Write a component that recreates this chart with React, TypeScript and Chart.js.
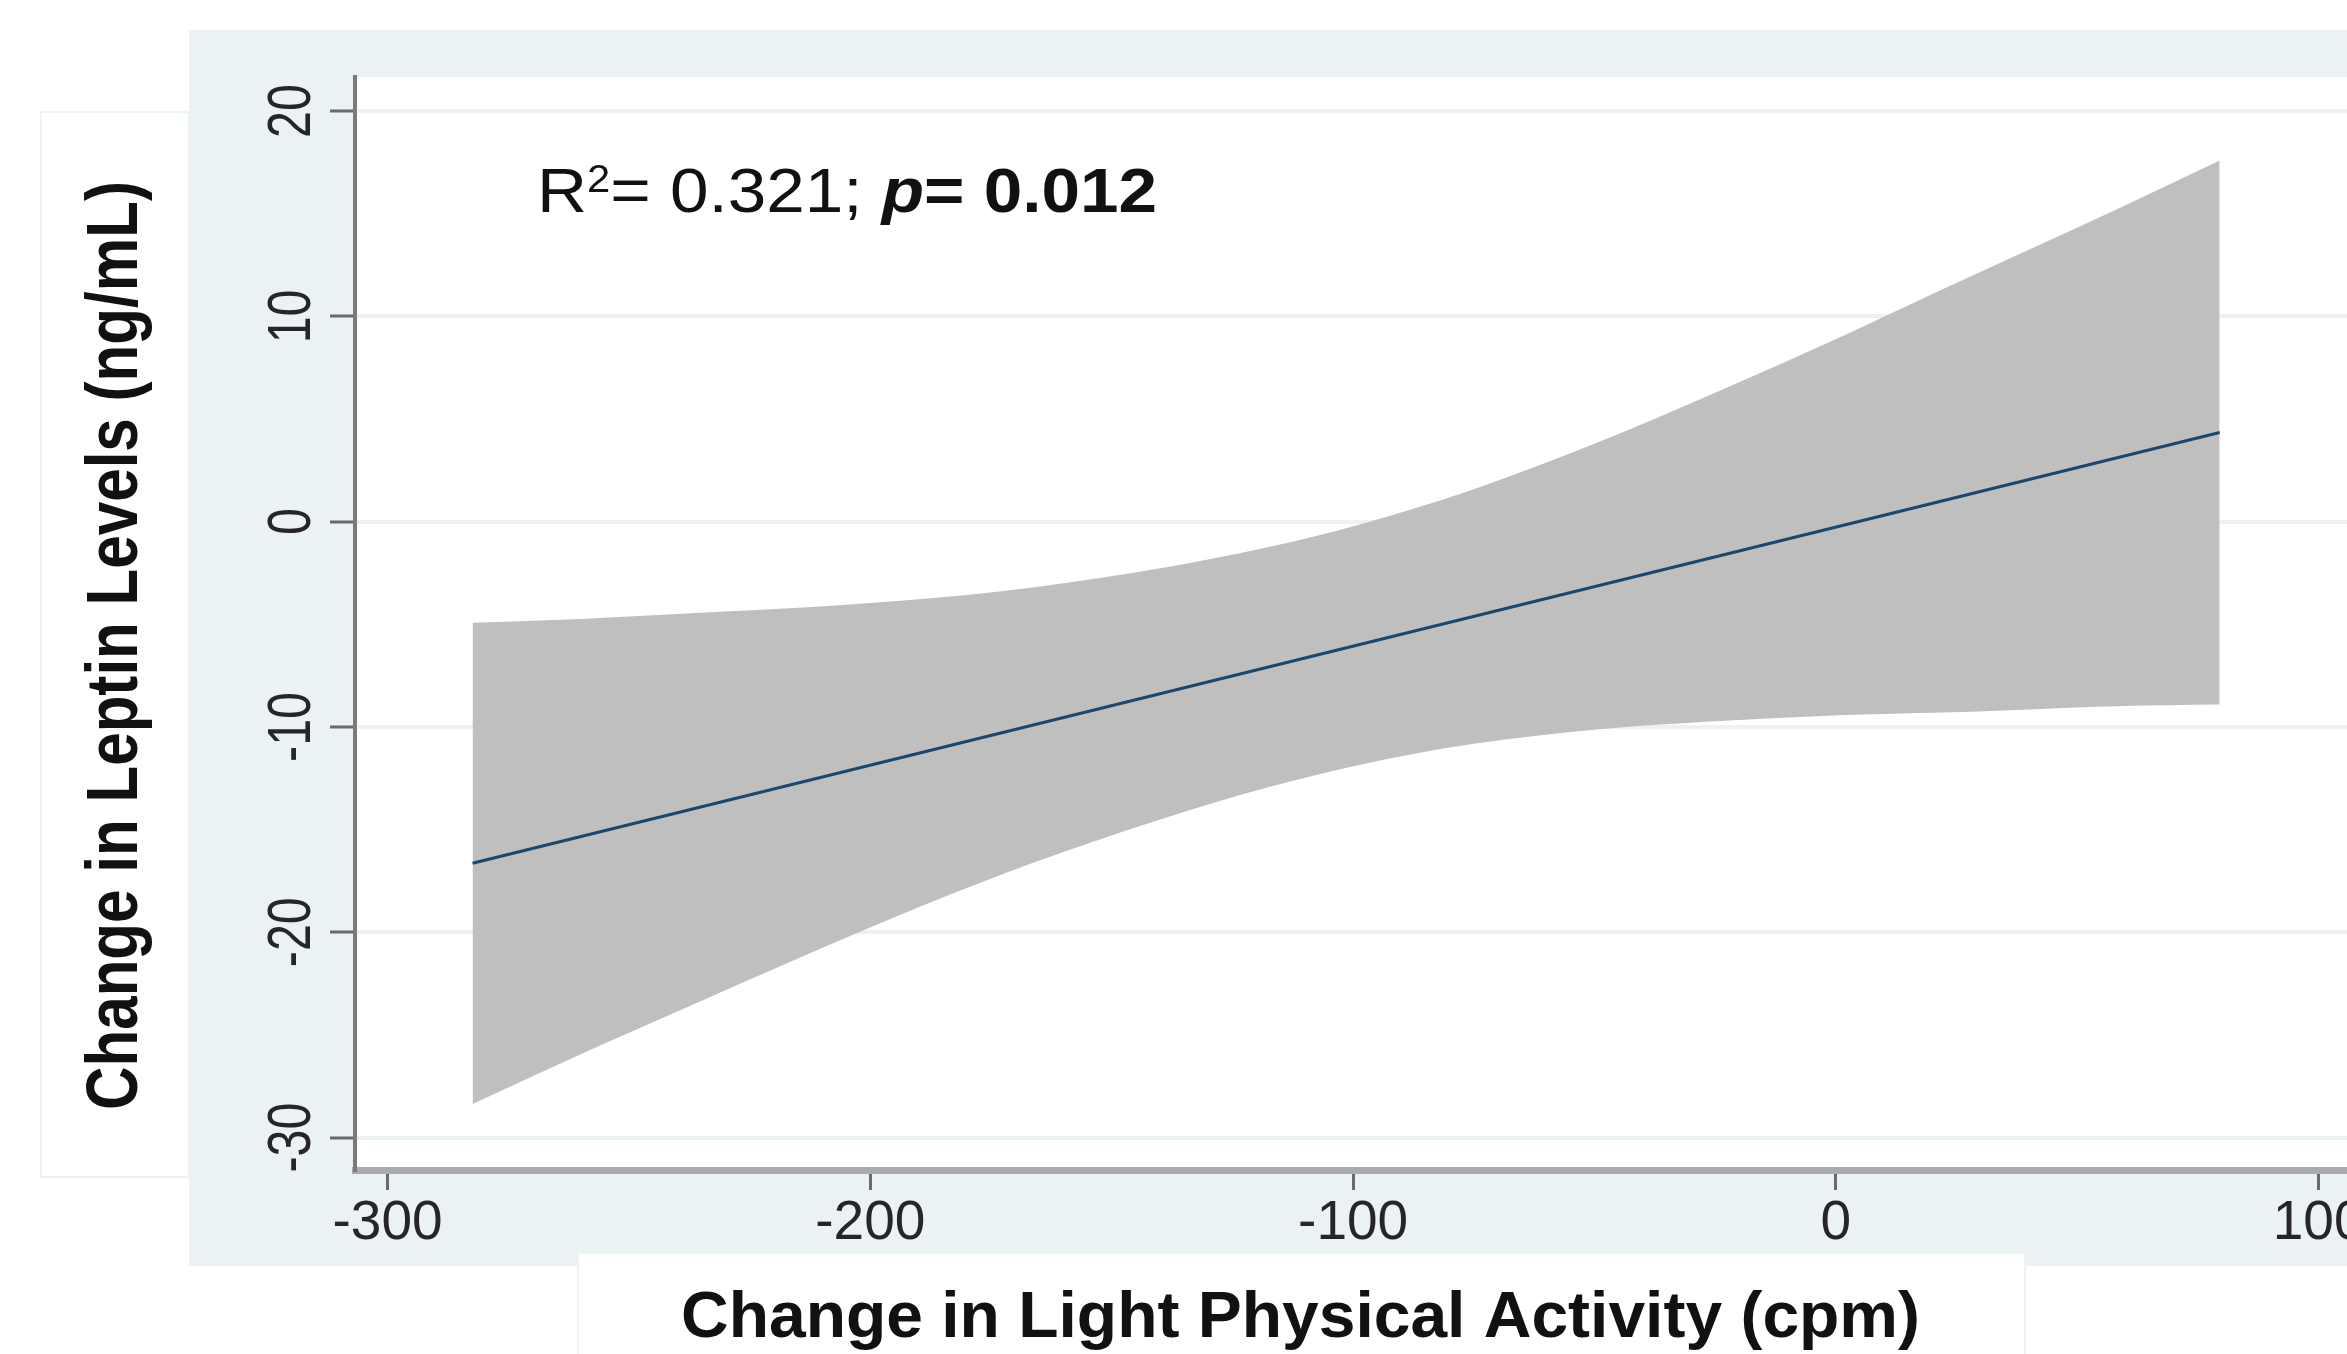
import React, { useEffect, useRef } from "react";
import { Chart, registerables } from "chart.js";

Chart.register(...registerables);

// ---------------- data ----------------
const xTicks = [-300, -200, -100, 0, 100];
const yTicks = [-30, -20, -10, 0, 10, 20];

// 95% CI band of the linear fit
const bandX = [-282.4, -260, -236, -213, -190, -166, -139, -118, -99, -75, -49, -25, 0.75, 20, 36, 58, 79.5];
const bandUpper = [-4.92, -4.74, -4.45, -4.17, -3.78, -3.19, -2.23, -1.26, -0.16, 1.58, 3.89, 6.28, 8.97, 11.09, 12.82, 15.19, 17.59];
const bandLower = [-28.36, -25.94, -23.45, -21.07, -18.78, -16.59, -14.43, -12.96, -11.86, -10.82, -10.11, -9.72, -9.43, -9.31, -9.18, -8.99, -8.91];

// fitted line
const fitX = [-282.4, 79.5];
const fitY = [-16.64, 4.34];

const xRange = [-306.75, 150];
const yRange = [-31.58, 21.66];

const xTitle = "Change in Light Physical Activity (cpm)";
const yTitle = "Change in Leptin Levels (ng/mL)";
const statR2 = "0.321";
const statP = "0.012";

// ---------------- layout / style ----------------
const W = 2560;
const H = 1354;
const FONT = '"Liberation Sans", Arial, sans-serif';
const BG_BLUE = "#EAF2F3";
const BAND = "rgb(191,191,191)";
const LINE = "#1a476f";

const bgPlugin = {
  id: "stataBackground",
  beforeDraw(chart: any) {
    const { ctx, chartArea } = chart;
    ctx.save();
    ctx.fillStyle = "#ffffff";
    ctx.fillRect(0, 0, W, H);
    // outer graph region
    ctx.fillStyle = BG_BLUE;
    ctx.fillRect(189, 30, W - 189, 1266 - 30);
    // plot region
    ctx.fillStyle = "#ffffff";
    ctx.fillRect(chartArea.left, chartArea.top, chartArea.right - chartArea.left, chartArea.bottom - chartArea.top);
    // title boxes
    ctx.fillStyle = "#ffffff";
    ctx.strokeStyle = "#eef4f5";
    ctx.lineWidth = 2;
    ctx.fillRect(41, 112, 148, 1065);
    ctx.strokeRect(41, 112, 148, 1065);
    ctx.fillRect(578, 1253, 1447, 110);
    ctx.strokeRect(578, 1253, 1447, 110);
    ctx.restore();
  },
};

const textPlugin = {
  id: "stataText",
  afterDraw(chart: any) {
    const { ctx } = chart;
    const ys = chart.scales.y;
    ctx.save();
    ctx.fillStyle = "#262626";
    // y tick labels (rotated, reading upward)
    ctx.font = `62px ${FONT}`;
    ctx.textAlign = "center";
    ctx.textBaseline = "alphabetic";
    for (const v of yTicks) {
      const py = ys.getPixelForValue(v);
      ctx.save();
      ctx.translate(309.5, py);
      ctx.rotate(-Math.PI / 2);
      ctx.scale(0.78, 1);
      ctx.fillText(String(v), 0, 0);
      ctx.restore();
    }

    // y title
    ctx.fillStyle = "#111111";
    ctx.font = `bold 72.6px ${FONT}`;
    const yw = ctx.measureText(yTitle).width;
    ctx.save();
    ctx.translate(137, 645.5);
    ctx.rotate(-Math.PI / 2);
    ctx.scale(929 / yw, 1);
    ctx.fillText(yTitle, 0, 0);
    ctx.restore();

    // x title
    ctx.font = `bold 65.6px ${FONT}`;
    const xw = ctx.measureText(xTitle).width;
    ctx.save();
    ctx.translate(1300.5, 1337);
    ctx.scale(1239 / xw, 1);
    ctx.fillText(xTitle, 0, 0);
    ctx.restore();

    // annotation
    const parts = [
      { t: "R", f: `63px ${FONT}`, dy: 0 },
      { t: "2", f: `38px ${FONT}`, dy: -20 },
      { t: `= ${statR2}; `, f: `63px ${FONT}`, dy: 0 },
      { t: "p", f: `italic bold 63px ${FONT}`, dy: 0 },
      { t: `= ${statP}`, f: `bold 63px ${FONT}`, dy: 0 },
    ];
    let total = 0;
    const widths: number[] = [];
    for (const p of parts) {
      ctx.font = p.f;
      const w = ctx.measureText(p.t).width;
      widths.push(w);
      total += w;
    }
    const s = 620 / total;
    ctx.save();
    ctx.translate(537, 212);
    ctx.scale(s, 1);
    ctx.textAlign = "left";
    ctx.fillStyle = "#111111";
    let cx = 0;
    parts.forEach((p, i) => {
      ctx.font = p.f;
      ctx.fillText(p.t, cx, p.dy);
      cx += widths[i];
    });
    ctx.restore();
    ctx.restore();
  },
};

export default function App() {
  const ref = useRef<HTMLCanvasElement>(null);

  useEffect(() => {
    const canvas = ref.current!;
    const fitData = fitX.map((x, i) => ({ x, y: fitY[i] }));
    const upperData = bandX.map((x, i) => ({ x, y: bandUpper[i] }));
    const lowerData = bandX.map((x, i) => ({ x, y: bandLower[i] }));

    const chart = new Chart(canvas, {
      type: "line",
      data: {
        datasets: [
          {
            label: "Fitted values",
            data: fitData,
            borderColor: LINE,
            borderWidth: 3,
            pointRadius: 0,
            fill: false,
          },
          {
            label: "95% CI upper",
            data: upperData,
            borderWidth: 0,
            borderColor: "rgba(0,0,0,0)",
            backgroundColor: BAND,
            pointRadius: 0,
            fill: "+1",
            cubicInterpolationMode: "monotone",
          },
          {
            label: "95% CI lower",
            data: lowerData,
            borderWidth: 0,
            borderColor: "rgba(0,0,0,0)",
            backgroundColor: BAND,
            pointRadius: 0,
            fill: false,
            cubicInterpolationMode: "monotone",
          },
        ],
      },
      options: {
        responsive: false,
        maintainAspectRatio: false,
        devicePixelRatio: 1,
        animation: false,
        events: [],
        layout: { autoPadding: false, padding: { top: 77, left: 0, right: 0, bottom: 0 } },
        plugins: {
          legend: { display: false },
          tooltip: { enabled: false },
          title: { display: false },
        },
        scales: {
          x: {
            type: "linear",
            min: xRange[0],
            max: xRange[1],
            afterBuildTicks: (scale: any) => {
              scale.ticks = xTicks.map((v) => ({ value: v }));
            },
            afterFit: (scale: any) => {
              scale.height = H - 1170;
              scale.paddingLeft = 0;
              scale.paddingRight = 0;
            },
            grid: {
              drawOnChartArea: false,
              drawTicks: true,
              tickLength: 20,
              tickColor: "#6a6a6a",
              tickWidth: 3,
            },
            border: { display: true, color: "#a8aaac", width: 7 },
            ticks: {
              autoSkip: false,
              maxRotation: 0,
              minRotation: 0,
              padding: 1,
              color: "#262626",
              font: { family: '"Liberation Sans", Arial, sans-serif', size: 55 },
              callback: (v: any) => String(v),
            },
          },
          y: {
            type: "linear",
            min: yRange[0],
            max: yRange[1],
            afterBuildTicks: (scale: any) => {
              scale.ticks = yTicks.map((v) => ({ value: v }));
            },
            afterFit: (scale: any) => {
              scale.width = 355;
              scale.paddingTop = 0;
              scale.paddingBottom = 0;
            },
            grid: {
              drawOnChartArea: true,
              color: BG_BLUE,
              lineWidth: 4,
              drawTicks: true,
              tickLength: 25,
              tickColor: "#6a6a6a",
              tickWidth: 3,
            },
            border: { display: true, color: "#7a7a7a", width: 4 },
            ticks: { display: false },
          },
        },
      },
      plugins: [bgPlugin, textPlugin],
    } as any);

    return () => chart.destroy();
  }, []);

  return (
    <div
      style={{
        position: "fixed",
        left: 0,
        top: 0,
        width: 2347,
        height: 1354,
        overflow: "hidden",
        background: "#ffffff",
      }}
    >
      <canvas
        ref={ref}
        width={W}
        height={H}
        style={{ position: "absolute", left: 0, top: 0, width: W, height: H }}
      />
    </div>
  );
}
